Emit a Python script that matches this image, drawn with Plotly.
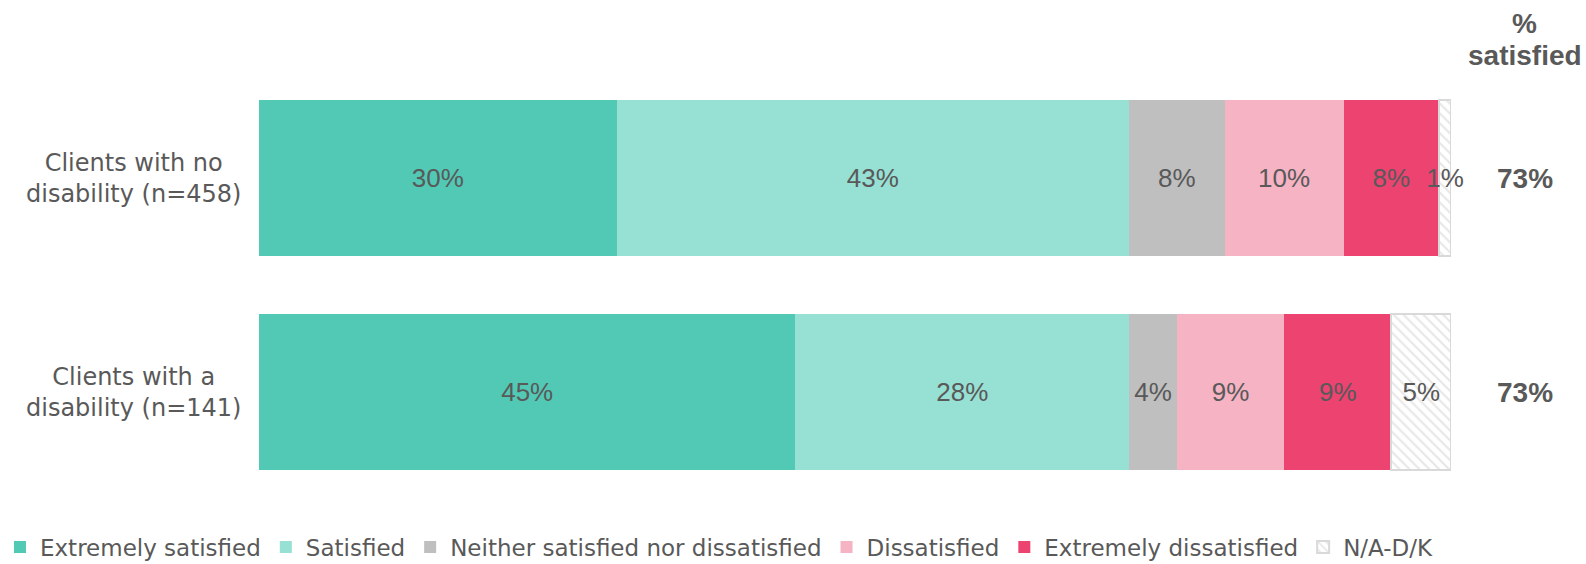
import plotly.graph_objects as go

# Respondent groups (top to bottom) and response categories
groups = ["Clients with no<br>disability (n=458)", "Clients with a<br>disability (n=141)"]
responses = [
    "Extremely satisfied",
    "Satisfied",
    "Neither satisfied nor dissatisfied",
    "Dissatisfied",
    "Extremely dissatisfied",
    "N/A-D/K",
]

# Share of each group giving each response (%)
extremely_satisfied = [30, 45]
satisfied = [43, 28]
neither = [8, 4]
dissatisfied = [10, 9]
extremely_dissatisfied = [8, 9]
na_dk = [1, 5]

series = [extremely_satisfied, satisfied, neither, dissatisfied, extremely_dissatisfied, na_dk]
colors = ["#52C9B5", "#97E0D4", "#BFBFBF", "#F6B3C4", "#EC4371", "#FFFFFF"]

# % satisfied = extremely satisfied + satisfied
pct_satisfied = [a + b for a, b in zip(extremely_satisfied, satisfied)]

GREY = "#595959"
LABEL_FONT = "DejaVu Sans"
VALUE_FONT = "Liberation Sans, Arial, sans-serif"

fig = go.Figure()
for name, values, color in zip(responses, series, colors):
    if name == "N/A-D/K":
        marker = dict(
            color=color,
            pattern=dict(shape="\\", fgcolor="#CFCFCF", bgcolor="#FFFFFF", size=7, solidity=0.3),
            line=dict(color="#D9D9D9", width=2),
        )
    else:
        marker = dict(color=color, line=dict(width=0))
    fig.add_trace(
        go.Bar(
            name=name,
            y=groups,
            x=values,
            orientation="h",
            marker=marker,
            texttemplate="%{x}%",
            textposition="inside",
            insidetextanchor="middle",
            constraintext="none",
            textangle=0,
            cliponaxis=False,
            insidetextfont=dict(family=VALUE_FONT, size=26, color=GREY),
            hoverinfo="skip",
        )
    )

# Group labels, centred to the left of each bar
for g in groups:
    fig.add_annotation(
        x=-0.105, xref="paper", y=g, yref="y",
        text=g, showarrow=False, xanchor="center", yanchor="middle", align="center",
        font=dict(family=LABEL_FONT, size=24, color=GREY),
    )

# % satisfied column
for g, p in zip(groups, pct_satisfied):
    fig.add_annotation(
        x=1.062, xref="paper", y=g, yref="y",
        text=f"<b>{p}%</b>", showarrow=False, xanchor="center", yanchor="middle",
        font=dict(family=VALUE_FONT, size=28, color=GREY),
    )
fig.add_annotation(
    x=1.062, xref="paper", y=1.112, yref="paper", text="<b>%</b>", showarrow=False,
    xanchor="center", yanchor="middle", font=dict(family=VALUE_FONT, size=28, color=GREY),
)
fig.add_annotation(
    x=1.062, xref="paper", y=1.037, yref="paper", text="<b>satisfied</b>", showarrow=False,
    xanchor="center", yanchor="middle", font=dict(family=VALUE_FONT, size=28, color=GREY),
)

fig.update_layout(
    width=1586,
    height=564,
    barmode="stack",
    bargap=0.27,
    margin=dict(l=259, r=135, t=71, b=65, autoexpand=False),
    paper_bgcolor="white",
    plot_bgcolor="white",
    showlegend=True,
    legend=dict(
        orientation="h",
        xref="paper", x=-0.2173, xanchor="left",
        yref="paper", y=-0.112, yanchor="middle",
        font=dict(family=LABEL_FONT, size=23, color=GREY),
        traceorder="normal",
        itemclick=False, itemdoubleclick=False,
        bgcolor="rgba(0,0,0,0)",
    ),
    xaxis=dict(range=[0, 100], visible=False, fixedrange=True),
    yaxis=dict(
        categoryorder="array", categoryarray=groups, autorange="reversed",
        showticklabels=False, showgrid=False, zeroline=False, fixedrange=True,
    ),
)

fig.write_html("out.html", config={"displayModeBar": False})
